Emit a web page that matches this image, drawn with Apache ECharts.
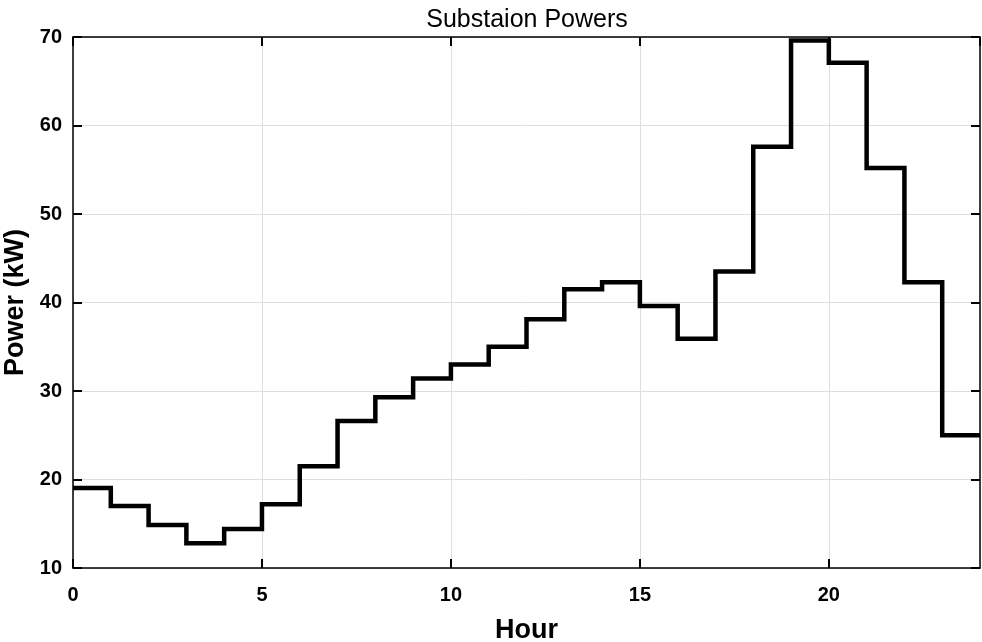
<!DOCTYPE html>
<html>
<head>
<meta charset="utf-8">
<script src="https://cdn.jsdelivr.net/npm/echarts@6/dist/echarts.min.js"></script>
<style>
html,body{margin:0;padding:0;background:#fff;}
#chart{width:982px;height:642px;}
</style>
</head>
<body>
<div id="chart"></div>
<script>
var hours = [0,1,2,3,4,5,6,7,8,9,10,11,12,13,14,15,16,17,18,19,20,21,22,23];
var power = [19.05, 17.0, 14.85, 12.8, 14.4, 17.2, 21.5, 26.6, 29.3, 31.4, 33.0, 35.0, 38.1, 41.5, 42.3, 39.6, 35.9, 43.5, 57.6, 69.6, 67.1, 55.2, 42.3, 25.0];
var xTicks = [0,5,10,15,20];
var yTicks = [10,20,30,40,50,60,70];

var pts = hours.map(function(h,i){return [h, power[i]];});
pts.push([24, power[power.length-1]]);

var font = 'Liberation Sans, Arial, sans-serif';
var chart = echarts.init(document.getElementById('chart'), null, {renderer:'canvas'});
var baseAxis = {
  axisLine:{show:true, onZero:false, lineStyle:{color:'#000', width:1.5}},
  axisTick:{show:true, inside:true, length:9, lineStyle:{color:'#000', width:2}},
};
chart.setOption({
  animation:false,
  title:{text:'Substaion Powers', left:522, top:3, textAlign:'center',
    textStyle:{fontFamily:font, fontWeight:'normal', fontSize:25, color:'#000'}},
  grid:{left:73, right:2, top:37, bottom:74, containLabel:false, outerBoundsMode:'none'},
  xAxis:[
    Object.assign({}, baseAxis, {type:'value', min:0, max:24, interval:5, position:'bottom',
      name:'Hour', nameLocation:'middle', nameGap:49,
      nameTextStyle:{fontFamily:font, fontWeight:'bold', fontSize:27, color:'#000'},
      axisLabel:{fontFamily:font, fontWeight:'bold', fontSize:20, color:'#000', margin:17,
        showMaxLabel:false, formatter:function(v){return xTicks.indexOf(v)>=0 ? String(v) : '';}},
      splitLine:{show:true, lineStyle:{color:'#dedede', width:1}}}),
    Object.assign({}, baseAxis, {type:'value', min:0, max:24, interval:5, position:'top',
      axisLabel:{show:false}, splitLine:{show:false}})
  ],
  yAxis:[
    Object.assign({}, baseAxis, {type:'value', min:10, max:70, interval:10, position:'left',
      name:'Power (kW)', nameLocation:'middle', nameGap:41,
      nameTextStyle:{fontFamily:font, fontWeight:'bold', fontSize:27, color:'#000'},
      axisLabel:{fontFamily:font, fontWeight:'bold', fontSize:20, color:'#000', margin:11,
        formatter:function(v){return yTicks.indexOf(v)>=0 ? String(v) : '';}},
      splitLine:{show:true, lineStyle:{color:'#dedede', width:1}}}),
    Object.assign({}, baseAxis, {type:'value', min:10, max:70, interval:10, position:'right',
      axisLabel:{show:false}, splitLine:{show:false}})
  ],
  series:[{
    type:'line', step:'end', data:pts, showSymbol:false, symbol:'none',
    lineStyle:{color:'#000', width:4.5, join:'miter'}, clip:false, z:5
  }]
});
</script>
</body>
</html>
